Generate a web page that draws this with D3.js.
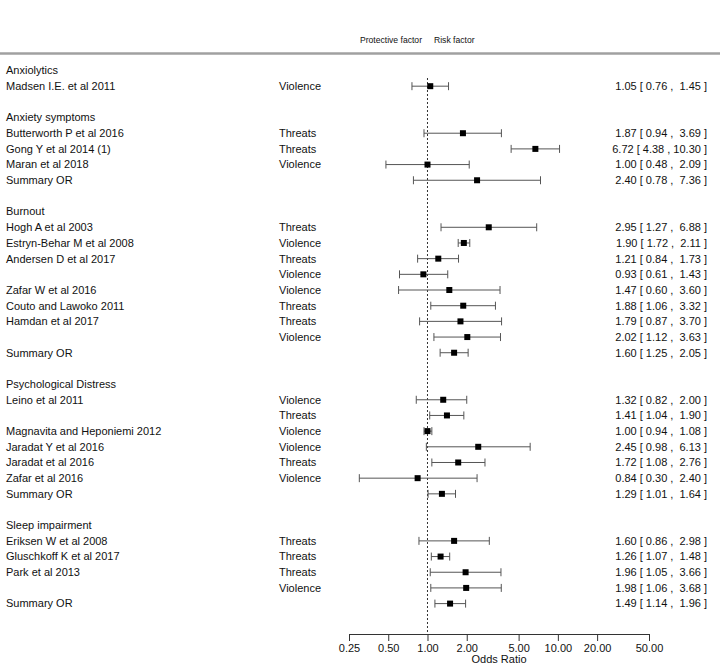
<!DOCTYPE html>
<html>
<head>
<meta charset="utf-8">
<script src="https://cdn.jsdelivr.net/npm/d3@7"></script>
<style>
  html, body { margin: 0; padding: 0; background: #fff; }
  svg { display: block; font-family: "Liberation Sans", Arial, sans-serif; }
  text { white-space: pre; }
</style>
</head>
<body>
<svg id="chart" width="720" height="667"></svg>
<script>
// ---- data ----
const groups = ["Anxiolytics", "Anxiety symptoms", "Burnout", "Psychological Distress", "Sleep impairment"];

const groupIndex = [0,
  1, 1, 1, 1,
  2, 2, 2, 2, 2, 2, 2, 2, 2,
  3, 3, 3, 3, 3, 3, 3,
  4, 4, 4, 4, 4];

const studies = ["Madsen I.E. et al 2011",
  "Butterworth P et al 2016", "Gong Y et al 2014 (1)", "Maran et al 2018", "Summary OR",
  "Hogh A et al 2003", "Estryn-Behar M et al 2008", "Andersen D et al 2017", "", "Zafar W et al 2016",
  "Couto and Lawoko 2011", "Hamdan et al 2017", "", "Summary OR",
  "Leino et al 2011", "", "Magnavita and Heponiemi 2012", "Jaradat Y et al 2016", "Jaradat et al 2016",
  "Zafar et al 2016", "Summary OR",
  "Eriksen W et al 2008", "Gluschkoff K et al 2017", "Park et al 2013", "", "Summary OR"];

const outcomes = ["Violence",
  "Threats", "Threats", "Violence", "",
  "Threats", "Violence", "Threats", "Violence", "Violence", "Threats", "Threats", "Violence", "",
  "Violence", "Threats", "Violence", "Violence", "Threats", "Violence", "",
  "Threats", "Threats", "Threats", "Violence", ""];

const oddsRatio = [1.05,
  1.87, 6.72, 1.00, 2.40,
  2.95, 1.90, 1.21, 0.93, 1.47, 1.88, 1.79, 2.02, 1.60,
  1.32, 1.41, 1.00, 2.45, 1.72, 0.84, 1.29,
  1.60, 1.26, 1.96, 1.98, 1.49];

const lower = [0.76,
  0.94, 4.38, 0.48, 0.78,
  1.27, 1.72, 0.84, 0.61, 0.60, 1.06, 0.87, 1.12, 1.25,
  0.82, 1.04, 0.94, 0.98, 1.08, 0.30, 1.01,
  0.86, 1.07, 1.05, 1.06, 1.14];

const upper = [1.45,
  3.69, 10.30, 2.09, 7.36,
  6.88, 2.11, 1.73, 1.43, 3.60, 3.32, 3.70, 3.63, 2.05,
  2.00, 1.90, 1.08, 6.13, 2.76, 2.40, 1.64,
  2.98, 1.48, 3.66, 3.68, 1.96];

const axisTicks = [0.25, 0.5, 1, 2, 5, 10, 20, 50];
const headerLeft = "Protective factor";
const headerRight = "Risk factor";
const axisTitle = "Odds Ratio";

// ---- build rows ----
const rows = [];
let rowIdx = 0;
groups.forEach((g, gi) => {
  rows.push({ type: "header", label: g, i: rowIdx++ });
  groupIndex.forEach((gidx, k) => {
    if (gidx === gi) {
      rows.push({ type: "entry", label: studies[k], outcome: outcomes[k],
        est: oddsRatio[k], lo: lower[k], hi: upper[k], i: rowIdx++ });
    }
  });
  rowIdx++; // blank row
});
const nRows = rowIdx - 1;

// ---- scales ----
const svg = d3.select("#chart");
const x = d3.scaleLog().domain([0.25, 50]).range([349, 649]);
const y = d3.scaleLinear().domain([0, nRows - 1]).range([70.5, 603.6]);
const axisY = 634;
const fontSize = 11;
const textColor = "#111";

// top separator
svg.append("line")
  .attr("x1", 0).attr("x2", 720).attr("y1", 53.5).attr("y2", 53.5)
  .attr("stroke", "#a0a0a0").attr("stroke-width", 2.5);

// header
svg.append("text").attr("x", 422).attr("y", 43).attr("text-anchor", "end")
  .attr("font-size", 8.6).attr("fill", textColor).text(headerLeft);
svg.append("text").attr("x", 434).attr("y", 43).attr("text-anchor", "start")
  .attr("font-size", 8.6).attr("fill", textColor).text(headerRight);

// reference line
svg.append("line")
  .attr("x1", x(1)).attr("x2", x(1)).attr("y1", 78).attr("y2", axisY)
  .attr("stroke", "#333").attr("stroke-width", 1).attr("stroke-dasharray", "2,2");

// labels
const g = svg.append("g");
rows.forEach(r => {
  const yy = y(r.i);
  g.append("text").attr("x", 6).attr("y", yy).attr("dy", "0.35em")
    .attr("font-size", fontSize).attr("fill", textColor).text(r.label);
  if (r.type === "entry") {
    g.append("text").attr("x", 279).attr("y", yy).attr("dy", "0.35em")
      .attr("font-size", fontSize).attr("fill", textColor).text(r.outcome);
    const hiStr = r.hi.toFixed(2).padStart(5, " ");
    const txt = `${r.est.toFixed(2)} [ ${r.lo.toFixed(2)} , ${hiStr} ]`;
    g.append("text").attr("x", 707).attr("y", yy).attr("dy", "0.35em")
      .attr("text-anchor", "end")
      .attr("font-size", fontSize).attr("fill", textColor).text(txt);
  }
});

// CI marks
const entries = rows.filter(r => r.type === "entry");
const marks = svg.append("g");
const ciColor = "#555";
marks.selectAll("line.ci").data(entries).join("line").attr("class", "ci")
  .attr("x1", d => x(d.lo)).attr("x2", d => x(d.hi))
  .attr("y1", d => y(d.i)).attr("y2", d => y(d.i))
  .attr("stroke", ciColor).attr("stroke-width", 1);
marks.selectAll("line.capL").data(entries).join("line").attr("class", "capL")
  .attr("x1", d => x(d.lo)).attr("x2", d => x(d.lo))
  .attr("y1", d => y(d.i) - 4).attr("y2", d => y(d.i) + 4)
  .attr("stroke", ciColor).attr("stroke-width", 1);
marks.selectAll("line.capR").data(entries).join("line").attr("class", "capR")
  .attr("x1", d => x(d.hi)).attr("x2", d => x(d.hi))
  .attr("y1", d => y(d.i) - 4).attr("y2", d => y(d.i) + 4)
  .attr("stroke", ciColor).attr("stroke-width", 1);
marks.selectAll("rect.pt").data(entries).join("rect").attr("class", "pt")
  .attr("x", d => x(d.est) - 3).attr("y", d => y(d.i) - 3)
  .attr("width", 6).attr("height", 6).attr("fill", "#000");

// axis
const axis = d3.axisBottom(x).tickValues(axisTicks)
  .tickFormat(d3.format(".2f")).tickSize(7).tickSizeOuter(0);
const ax = svg.append("g").attr("transform", `translate(0,${axisY})`).call(axis);
ax.select(".domain").attr("stroke", "#333").attr("d", `M${x(0.25)},0.5H${x(50)}`);
ax.selectAll(".tick line").attr("stroke", "#333");
ax.selectAll(".tick text").attr("font-size", fontSize).attr("fill", textColor)
  .attr("font-family", "Liberation Sans, Arial, sans-serif");

svg.append("text").attr("x", (x(0.25) + x(50)) / 2).attr("y", 659).attr("dy", "0.35em")
  .attr("text-anchor", "middle").attr("font-size", fontSize).attr("fill", textColor)
  .text(axisTitle);
</script>
</body>
</html>
